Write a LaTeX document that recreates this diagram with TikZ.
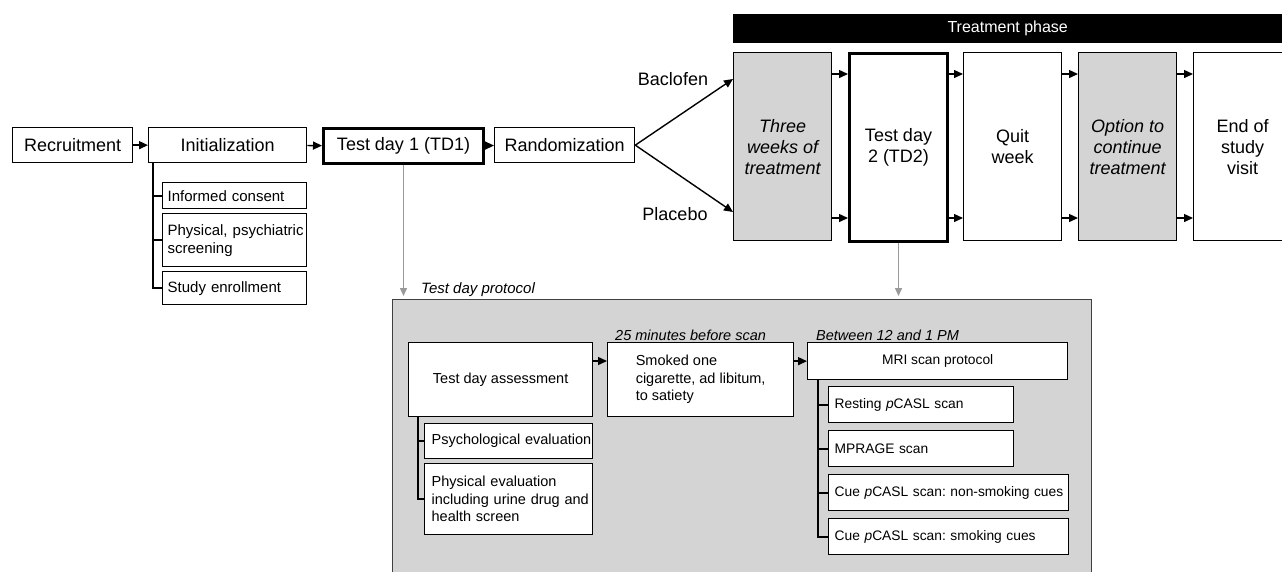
\documentclass[tikz,border=0pt]{standalone}
\usepackage{fontspec}
\setmainfont{Liberation Sans}
\usetikzlibrary{arrows.meta,calc}
\definecolor{boxgray}{HTML}{D4D4D4}
\definecolor{arrgray}{HTML}{9A9A9A}
\definecolor{edgegray}{HTML}{404040}
\newcommand{\fbig}{\fontsize{18}{21}\selectfont}
\newcommand{\fmid}{\fontsize{15}{18}\selectfont}
\newcommand{\fsmall}{\fontsize{14.5}{17.5}\selectfont}
\newcommand{\ftiny}{\fontsize{13.8}{16.5}\selectfont}
\newcommand{\oneline}[1]{\mbox{#1}}
\frenchspacing
\begin{document}
\begin{tikzpicture}[x=1pt,y=-1pt,
  box/.style={draw=black, fill=white, line width=1.3pt, inner sep=0pt, anchor=north west, align=center},
  topbox/.style={box, font=\fbig, minimum height=35pt},
  thickbox/.style={line width=3pt},
  phasebox/.style={box, font=\fbig, minimum width=98pt, minimum height=188pt},
  initsub/.style={box, font=\fmid, align=left, inner xsep=5pt, text width=134pt},
  protmain/.style={box, font=\fsmall},
  protsub/.style={box, font=\fsmall, align=left, inner xsep=7pt},
  mrisub/.style={box, font=\ftiny, align=left, inner xsep=6pt, minimum height=36pt},
  arr/.style={line width=1.4pt, -{Triangle[length=9pt,width=8pt]}},
  grayarr/.style={draw=arrgray, line width=1.4pt, -{Triangle[length=8pt,width=7pt]}, shorten >=3pt},
  bracket/.style={line width=2pt, line cap=rect},
  lbl/.style={font=\fbig, inner sep=0pt},
  itl/.style={font=\fsmall\itshape, inner sep=0pt, anchor=west}
]
\useasboundingbox (0,0) rectangle (1282,571);

% ---- protocol background
\node[draw=edgegray, fill=boxgray, line width=1pt, anchor=north west, minimum width=699pt, minimum height=290pt, inner sep=0pt] (prot) at (392,299) {};
\node[font=\fmid\itshape, inner sep=0pt, anchor=west] (protlbl) at (421,290) {Test day protocol};

% ---- top row
\node[topbox, minimum width=120pt] (rec) at (12,127) {Recruitment};
\node[topbox, minimum width=158pt] (init) at (148,127) {Initialization};
\node[topbox, thickbox, minimum width=160pt] (td1) at (322,127) {Test day 1 (TD1)};
\node[topbox, minimum width=140pt] (rand) at (494,127) {Randomization};

\draw[arr] (rec) -- (init);
\draw[arr] (init) -- (td1);
\draw[arr] (td1) -- (rand);

% ---- initialization sub-items
\node[initsub, minimum height=26pt] (inf) at (162,182) {\oneline{Informed consent}};
\node[initsub, minimum height=53pt] (phys) at (162,213) {\oneline{Physical, psychiatric}\\\oneline{screening}};
\node[initsub, minimum height=33pt] (enr) at (162,271) {\oneline{Study enrollment}};
\coordinate (ib) at ($(init.south west)+(5,0)$);
\draw[bracket] (ib) |- (enr.west);
\draw[bracket] (inf.west -| ib) -- (inf.west);
\draw[bracket] (phys.west -| ib) -- (phys.west);

% ---- treatment phase
\node[fill=black, anchor=north west, minimum width=549pt, minimum height=29pt, inner sep=0pt, text=white, font=\fontsize{16}{19}\selectfont] (phase) at (733,14) {Treatment phase};
\node[phasebox, fill=boxgray] (three) at (733,52) {\itshape Three\\\itshape weeks of\\\itshape treatment};
\node[phasebox, thickbox] (td2) at (848,52) {Test day\\2 (TD2)};
\node[phasebox] (quit) at (963,52) {Quit\\week};
\node[phasebox, fill=boxgray] (opt) at (1078,52) {\itshape Option to\\\itshape continue\\\itshape treatment};
\node[phasebox] (endv) at (1193,52) {End of\\study\\visit};

\coordinate (bac) at (733,79);
\coordinate (pla) at (733,212);
\coordinate (ya) at (0,74);
\coordinate (yb) at (0,218);
\draw[arr] (rand.east) -- (bac);
\draw[arr] (rand.east) -- (pla);
\node[lbl] (baclbl) at (673,79) {Baclofen};
\node[lbl] (plalbl) at (675,214) {Placebo};

\foreach \a/\b in {three/td2, td2/quit, quit/opt, opt/endv} {
  \draw[arr] (\a.east |- ya) -- (\b.west |- ya);
  \draw[arr] (\a.east |- yb) -- (\b.west |- yb);
}

% ---- gray arrows to protocol
\draw[grayarr] (td1.south) -- (td1.south |- prot.north);
\draw[grayarr] (td2.south) -- (td2.south |- prot.north);

% ---- protocol content
\node[protmain, minimum width=184pt, minimum height=74pt] (tda) at (408,342) {Test day assessment};
\node[protmain, minimum width=186pt, minimum height=74pt, align=left] (smk) at (607,342) {Smoked one\\cigarette, ad libitum,\\to satiety};
\node[protmain, font=\ftiny, minimum width=260pt, minimum height=37pt] (mri) at (807,342) {MRI scan protocol};
\node[itl] (t25) at (615,335) {25 minutes before scan};
\node[itl] (tbw) at (816,335) {Between 12 and 1 PM};

\coordinate (yc) at (0,361);
\draw[arr] (tda.east |- yc) -- (smk.west |- yc);
\draw[arr] (smk.east |- mri.west) -- (mri.west);

\node[protsub, text width=154pt, minimum height=35pt] (psy) at (424,423) {\oneline{Psychological evaluation}};
\node[protsub, text width=154pt, minimum height=71pt] (pev) at (424,463) {\oneline{Physical evaluation}\\\oneline{including urine drug and}\\\oneline{health screen}};
\coordinate (tb) at ($(tda.south west)+(10,0)$);
\draw[bracket] (tb) |- (pev.west);
\draw[bracket] (psy.west -| tb) -- (psy.west);

\node[mrisub, text width=173pt] (rest) at (828,386) {\oneline{Resting \textit{p}CASL scan}};
\node[mrisub, text width=173pt] (mpr) at (828,430) {\oneline{MPRAGE scan}};
\node[mrisub, text width=228pt] (cuen) at (828,474) {\oneline{Cue \textit{p}CASL scan: non-smoking cues}};
\node[mrisub, text width=228pt] (cues) at (828,518) {\oneline{Cue \textit{p}CASL scan: smoking cues}};
\coordinate (mb) at ($(mri.south west)+(11,0)$);
\draw[bracket] (mb) |- (cues.west);
\draw[bracket] (rest.west -| mb) -- (rest.west);
\draw[bracket] (mpr.west -| mb) -- (mpr.west);
\draw[bracket] (cuen.west -| mb) -- (cuen.west);
\end{tikzpicture}
\end{document}
